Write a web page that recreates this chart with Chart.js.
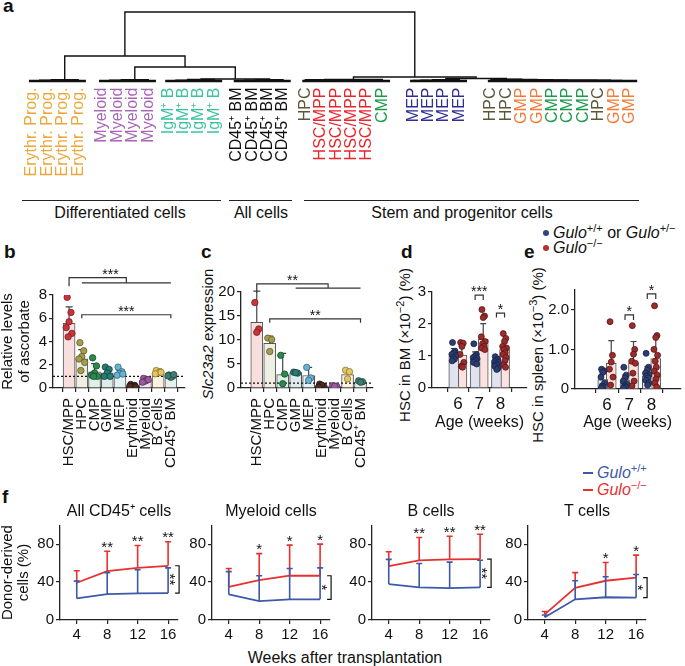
<!DOCTYPE html>
<html>
<head>
<meta charset="utf-8">
<title>Ascorbate levels in haematopoietic cells</title>
<script src="https://cdn.jsdelivr.net/npm/chart.js@4.4.1/dist/chart.umd.min.js"></script>
<style>
  body { margin: 0; background: #fff; }
  #page { position: relative; width: 685px; height: 666px; overflow: hidden; font-family: "Liberation Sans", Arial, sans-serif; color: #111; }
  #page canvas { position: absolute; }
  .t { position: absolute; white-space: nowrap; font-size: 16px; line-height: 16px; }
  .panel { font-weight: bold; font-size: 19px; line-height: 19px; }
  .rule { position: absolute; height: 0; border-top: 1.6px solid #222; }
  .rot { position: absolute; white-space: nowrap; font-size: 15px; line-height: 15px; transform: translate(-50%, -50%) rotate(-90deg); }
  .sup { font-size: 11px; position: relative; top: -6px; font-style: normal; }
  .dot { position: absolute; width: 6px; height: 6px; border-radius: 50%; }
  .seg { position: absolute; width: 10px; height: 0; border-top: 2px solid; }
</style>
</head>
<body>
<div id="page">
  <div class="t panel" style="left:3px;top:-4px">a</div>
  <div class="t panel" style="left:4px;top:242px">b</div>
  <div class="t panel" style="left:201px;top:242px">c</div>
  <div class="t panel" style="left:401px;top:242px">d</div>
  <div class="t panel" style="left:524px;top:242px">e</div>
  <div class="t panel" style="left:2px;top:487px">f</div>

  <div class="rule" style="left:22px;top:200px;width:199px"></div>
  <div class="rule" style="left:229px;top:200px;width:63px"></div>
  <div class="rule" style="left:304px;top:200px;width:335px"></div>
  <div class="t" style="left:120px;top:205px;transform:translateX(-50%)">Differentiated cells</div>
  <div class="t" style="left:261px;top:205px;transform:translateX(-50%)">All cells</div>
  <div class="t" style="left:462px;top:205px;transform:translateX(-50%)">Stem and progenitor cells</div>

  <div class="dot" style="left:543px;top:230px;background:#34457e"></div>
  <div class="t" style="left:553px;top:225px"><i>Gulo</i><span class="sup">+/+</span> or <i>Gulo</i><span class="sup">+/−</span></div>
  <div class="dot" style="left:543px;top:245px;background:#b8302e"></div>
  <div class="t" style="left:553px;top:240px"><i>Gulo</i><span class="sup">−/−</span></div>

  <div class="rot" style="left:207px;top:334px"><i>Slc23a2</i> expression</div>
  <div class="rot" style="left:405px;top:345px">HSC in BM (×10<span class="sup">−2</span>) (%)</div>
  <div class="rot" style="left:538px;top:355px">HSC in spleen (×10<span class="sup">−3</span>) (%)</div>

  <div class="seg" style="left:583px;top:472px;border-color:#3d5aa8"></div>
  <div class="t" style="left:597px;top:465px;color:#3d5aa8"><i>Gulo</i><span class="sup">+/+</span></div>
  <div class="seg" style="left:583px;top:489px;border-color:#e8312f"></div>
  <div class="t" style="left:597px;top:482px;color:#e8312f"><i>Gulo</i><span class="sup">−/−</span></div>

  <div class="t" style="left:345px;top:650px;transform:translateX(-50%)">Weeks after transplantation</div>
</div>
<script>
// ================= PANEL A: clustering =================
const leafLabels = [
  "Erythr. Prog.", "Erythr. Prog.", "Erythr. Prog.", "Erythr. Prog.",
  "Myeloid", "Myeloid", "Myeloid", "Myeloid",
  "IgM⁺ B", "IgM⁺ B", "IgM⁺ B", "IgM⁺ B",
  "CD45⁺ BM", "CD45⁺ BM", "CD45⁺ BM", "CD45⁺ BM",
  "HPC", "HSC/MPP", "HSC/MPP", "HSC/MPP", "HSC/MPP", "CMP",
  "MEP", "MEP", "MEP", "MEP",
  "HPC", "HPC", "GMP", "GMP", "CMP", "CMP", "CMP", "HPC", "GMP", "GMP"
];
// linkage rows: [node a, node b, merge height]; new nodes are numbered from 36
const linkage = [
  [0, 1, 0.4], [36, 2, 0.8], [37, 3, 1.2],
  [4, 5, 0.4], [39, 6, 0.8], [40, 7, 1.2],
  [8, 9, 0.4], [42, 10, 0.9], [43, 11, 1.5],
  [12, 13, 0.4], [45, 14, 0.8], [46, 15, 1.2],
  [44, 47, 2.0], [41, 48, 14], [38, 49, 25],
  [17, 18, 0.4], [19, 20, 0.4], [51, 52, 0.8], [16, 53, 1.2], [54, 21, 1.6],
  [22, 23, 0.5], [56, 24, 0.9], [57, 25, 1.3],
  [35, 34, 0.3], [59, 33, 0.5], [60, 32, 0.7], [61, 31, 0.8], [62, 30, 0.9],
  [63, 29, 1.1], [64, 28, 1.3], [65, 27, 1.5], [66, 26, 1.8],
  [58, 67, 2.5], [55, 68, 4], [50, 69, 69]
];
const leafGroups = [[0, 3], [4, 7], [8, 11], [12, 15], [16, 21], [22, 25], [26, 35]];

// ================= PANELS B, C =================
const cellTypes = ["HSC/MPP", "HPC", "CMP", "GMP", "MEP", "Erythroid", "Myeloid", "B Cells", "CD45⁺ BM"];
const ascMean = [5.57, 2.5, 1.4, 1.3, 1.25, 0.18, 0.65, 1.3, 1.0];
const ascSD = [1.4, 0.8, 0.7, 0.3, 0.25, 0.08, 0.12, 0.1, 0.1];
const ascPoints = [
  [7.8, 6.5, 5.7, 5.2, 4.7, 4.4],
  [3.9, 3.2, 2.7, 2.5, 2.2, 1.5],
  [2.6, 1.9, 1.3, 1.1, 1.0, 1.0],
  [1.8, 1.6, 1.3, 1.0, 1.0],
  [1.8, 1.4, 1.25, 1.1, 1.2],
  [0.3, 0.22, 0.12, 0.15, 0.1],
  [0.82, 0.7, 0.6, 0.5, 0.72],
  [1.5, 1.42, 1.3, 1.22, 1.35],
  [1.12, 1.02, 0.92, 1.05, 1.15]
];
const slcMean = [13.7, 9.3, 2.8, 3.2, 2.6, 0.45, 0.4, 2.8, 1.3];
const slcSD = [6.5, 1.5, 4.4, 0.25, 1.7, 0.2, 0.1, 0.9, 0.2];
const slcPoints = [
  [17.8, 12.3, 11.6],
  [10.4, 10.1, 7.6],
  [6.8, 2.9, 0.9],
  [3.3, 3.1, 3.2],
  [4.3, 2.1, 1.6],
  [0.8, 0.4, 0.6, 0.2],
  [0.5, 0.4, 0.35],
  [3.7, 3.4, 1.9],
  [1.5, 1.3, 1.2]
];
const ascSig = [
  { from: 0, group: [1, 8], foot: 8.75, top: 9.5, mid: 9.05, stars: "***", starX: 3.25 },
  { from: 1, to: 8, foot: 6.0, top: 6.3, stars: "***", starX: 4.5 }
];
const slcSig = [
  { from: 0, group: [3, 8], foot: 19.9, top: 21.7, mid: 20.8, stars: "**", starX: 2.75 },
  { from: 1, to: 8, foot: 13.6, top: 14.4, stars: "**", starX: 4.5 }
];

// ================= PANELS D, E =================
const ages = [6, 7, 8];
const bmWtMean = [1.0, 0.9, 0.78], bmWtSD = [0.23, 0.23, 0.2];
const bmKoMean = [1.03, 1.53, 1.2], bmKoSD = [0.4, 0.48, 0.3];
const bmWtPoints = [
  [1.42, 1.15, 1.1, 1.05, 1.0, 0.95, 0.9, 0.85],
  [1.38, 1.05, 1.0, 0.95, 0.92, 0.88, 0.85, 0.8, 0.75],
  [0.98, 0.9, 0.85, 0.82, 0.8, 0.76, 0.72, 0.68, 0.62, 0.58]
];
const bmKoPoints = [
  [1.42, 1.4, 1.3, 1.05, 0.8, 0.68, 0.65],
  [2.45, 2.25, 2.2, 1.6, 1.45, 1.38, 1.3, 1.25, 1.2],
  [1.7, 1.55, 1.45, 1.3, 1.25, 1.2, 1.1, 1.05, 0.95, 0.85, 0.72, 0.65]
];
const spWtMean = [0.24, 0.21, 0.33], spWtSD = [0.28, 0.14, 0.23];
const spKoMean = [0.65, 0.66, 0.77], spKoSD = [0.57, 0.54, 0.55];
const spWtPoints = [
  [0.5, 0.45, 0.42, 0.3, 0.15, 0.08, 0.05, 0.02],
  [0.55, 0.35, 0.28, 0.2, 0.12, 0.08, 0.05, 0.02],
  [0.9, 0.55, 0.48, 0.4, 0.36, 0.32, 0.28, 0.22, 0.15, 0.1]
];
const spKoPoints = [
  [1.7, 0.85, 0.68, 0.5, 0.3, 0.1],
  [1.6, 1.0, 0.88, 0.7, 0.65, 0.4, 0.2, 0.08],
  [2.1, 1.35, 1.3, 1.0, 0.85, 0.7, 0.55, 0.45, 0.35, 0.25, 0.15, 0.05]
];
const bmSig = [{ age: 7, foot: 2.75, top: 2.9, stars: "***" }, { age: 8, foot: 2.2, top: 2.34, stars: "*" }];
const spSig = [{ age: 7, foot: 1.74, top: 1.87, stars: "*" }, { age: 8, foot: 2.27, top: 2.4, stars: "*" }];

// ================= PANEL F =================
const weeks = [4, 8, 12, 16];
const fTitles = ["All CD45⁺ cells", "Myeloid cells", "B cells", "T cells"];
const fWt = [[22.8, 27.4, 28, 28.4], [27, 20, 21.8, 21.8], [37.9, 34.4, 33.7, 34.4], [2.8, 21.8, 24, 23.5]];
const fWtUp = [[41, 50, 53, 55], [51, 46.7, 54.4, 55], [64, 59.6, 61, 63], [5.3, 41.4, 45.6, 48]];
const fKo = [[39.3, 51.6, 55, 57.2], [35, 42, 46.7, 46.7], [56.8, 63, 64, 64.2], [6, 34, 41.4, 44.6]];
const fKoUp = [[52, 72.6, 78.6, 82.5], [54.4, 70, 79, 80], [72, 87, 88.4, 90.5], [9, 50, 60.7, 68.4]];
const fStars = [["", "**", "**", "**"], ["", "*", "*", "*"], ["", "**", "**", "**"], ["", "", "*", "*"]];
const fOverall = ["**", "*", "**", "*"];

// ================= STYLES =================
const FONT = "'Liberation Sans', Arial, sans-serif";
Chart.defaults.font.family = FONT;
Chart.defaults.font.size = 15;
Chart.defaults.color = "#111";
Chart.defaults.animation = false;
Chart.defaults.responsive = false;
Chart.defaults.plugins.legend.display = false;
Chart.defaults.plugins.tooltip.enabled = false;

const CELL_COLORS = {
  "Erythr. Prog.": "#eba83a", "Myeloid": "#a865b8", "IgM⁺ B": "#3cc2a0", "CD45⁺ BM": "#111111",
  "HPC": "#5a5838", "HSC/MPP": "#e8262d", "CMP": "#1b9a4b", "MEP": "#2e2f91", "GMP": "#f27c3a"
};
const CAT_FILL = ["#f9dede", "#eeeee2", "#e0f0e6", "#dcecec", "#e4f1f6", "#f6efea", "#f2e6f2", "#fbf3dd", "#e6f1ee"];
const CAT_DOT = ["#c7363c", "#a69c52", "#2a8a4e", "#2a7a72", "#6ab2cf", "#4d2b22", "#9a5a9c", "#e6c563", "#3e7d70"];
const CAT_EDGE = ["#7a1e22", "#5f5a2c", "#164d2b", "#134440", "#2f6880", "#2a1510", "#5a2e5c", "#8a7330", "#1e4a40"];
const WT_FILL = "#dfe2ef", WT_DOT = "#2c3d6e", WT_EDGE = "#18234a";
const KO_FILL = "#fbe1df", KO_DOT = "#9b2c2c", KO_EDGE = "#5a1515";
const BLUE = "#3d5aa8", RED = "#e8312f";
const JIT = [-0.6, 0.6, 0, -0.9, 0.9, -0.3, 0.3, -0.75, 0.75, 0.15, -0.45, 0.45];

function addCanvas(left, top, w, h) {
  const c = document.createElement("canvas");
  c.width = w; c.height = h;
  c.style.left = left + "px"; c.style.top = top + "px";
  c.style.width = w + "px"; c.style.height = h + "px";
  document.getElementById("page").appendChild(c);
  return c;
}

function yAxis(min, max, step, width, extra) {
  return Object.assign({
    type: "linear", min, max,
    afterFit: s => { s.width = width; },
    ticks: { stepSize: step, padding: 2, font: { size: 15 }, color: "#111" },
    grid: { display: true, drawOnChartArea: false, drawTicks: true, tickLength: 4, color: "#222", lineWidth: 1.2 },
    border: { display: true, color: "#222", width: 1.3 }
  }, extra || {});
}

function xAxis(min, max, vals, height, label, extra) {
  return Object.assign({
    type: "linear", min, max,
    afterBuildTicks: s => { s.ticks = vals.map(v => ({ value: v })); },
    afterFit: s => { s.height = height; },
    ticks: { autoSkip: false, maxRotation: 0, padding: 2, callback: (v, i) => label(i), font: { size: 15 }, color: "#111" },
    grid: { display: true, drawOnChartArea: false, drawTicks: true, tickLength: 4, color: "#222", lineWidth: 1.2 },
    border: { display: true, color: "#222", width: 1.3 }
  }, extra || {});
}

function starText(ctx, txt, x, y, size) {
  ctx.font = size + "px " + FONT;
  ctx.textAlign = "center";
  ctx.textBaseline = "alphabetic";
  ctx.fillText(txt, x, y + 0.57 * size);
}

// ================= DRAW A =================
const PX = 15.4;
const gapAfter = { 3: 0.55, 7: 0.3, 11: 0.45, 15: 0.45, 21: 1.0, 25: 1.05 };
const leafPos = [];
let run = 0;
leafLabels.forEach((l, i) => { leafPos.push(run); run += 1 + (gapAfter[i] || 0); });

const nodeX = leafPos.slice(), nodeH = leafPos.map(() => 0);
const treeSets = linkage.map(([a, b, h]) => {
  const pts = [{ x: nodeX[a], y: nodeH[a] }, { x: nodeX[a], y: h }, { x: nodeX[b], y: h }, { x: nodeX[b], y: nodeH[b] }];
  nodeX.push((nodeX[a] + nodeX[b]) / 2);
  nodeH.push(h);
  return { data: pts, showLine: true, borderColor: "#111", borderWidth: 1.4, pointRadius: 0, clip: false };
});
leafGroups.forEach(([s, e]) => {
  treeSets.push({ data: [{ x: leafPos[s] - 0.2, y: 0 }, { x: leafPos[e] + 0.5, y: 0 }],
    showLine: true, borderColor: "#111", borderWidth: 2.6, pointRadius: 0, clip: false });
});

const dendroMin = -(32 - 14) / PX;
new Chart(addCanvas(0, 0, 685, 190), {
  type: "scatter",
  data: { datasets: treeSets },
  options: {
    layout: { padding: { left: 14, right: 30, top: 12, bottom: 0 } },
    scales: {
      x: {
        type: "linear", min: dendroMin, max: dendroMin + (685 - 44) / PX,
        afterBuildTicks: s => { s.ticks = leafPos.map(v => ({ value: v })); },
        afterFit: s => { s.height = 107.5; },
        ticks: {
          autoSkip: false, minRotation: 90, maxRotation: 90, padding: 5,
          font: { size: 16 },
          callback: (v, i) => leafLabels[i],
          color: c => CELL_COLORS[leafLabels[c.index]] || "#111"
        },
        grid: { display: false, drawTicks: false },
        border: { display: false }
      },
      y: { display: false, min: -1.5, max: 69 }
    }
  }
});

// ================= DRAW B, C =================
function catSig(chart, sig) {
  const { ctx, scales: { x, y } } = chart;
  const X = v => x.getPixelForValue(v), Y = v => y.getPixelForValue(v);
  ctx.save();
  ctx.strokeStyle = "#333"; ctx.lineWidth = 1.2; ctx.fillStyle = "#111";
  sig.forEach(s => {
    ctx.beginPath();
    if (s.group) {
      const mid = (s.group[0] + s.group[1]) / 2;
      ctx.moveTo(X(s.from), Y(s.foot)); ctx.lineTo(X(s.from), Y(s.top));
      ctx.lineTo(X(mid), Y(s.top)); ctx.lineTo(X(mid), Y(s.mid));
      ctx.moveTo(X(s.group[0]), Y(s.mid)); ctx.lineTo(X(s.group[1]), Y(s.mid));
    } else {
      ctx.moveTo(X(s.from), Y(s.foot)); ctx.lineTo(X(s.from), Y(s.top));
      ctx.lineTo(X(s.to), Y(s.top)); ctx.lineTo(X(s.to), Y(s.foot));
    }
    ctx.stroke();
    starText(ctx, s.stars, X(s.starX), Y(s.top) - 7, 14);
  });
  ctx.restore();
}

function catPanel(cv, geo, means, sds, points, sig) {
  const dots = [];
  points.forEach((arr, i) => arr.forEach((v, j) => dots.push({ x: i + JIT[j % JIT.length] * geo.jit, y: v, c: i })));
  new Chart(cv, {
    type: "bar",
    data: {
      datasets: [
        { type: "scatter", order: 0, data: dots, pointRadius: 3.2, pointBorderWidth: 0.8,
          pointBackgroundColor: dots.map(d => CAT_DOT[d.c]), pointBorderColor: dots.map(d => CAT_EDGE[d.c]) },
        { type: "bar", order: 1, grouped: false, data: means.map((m, i) => ({ x: i, y: m })),
          barThickness: 12, backgroundColor: CAT_FILL, borderColor: "#555", borderWidth: 1 }
      ]
    },
    options: {
      layout: { padding: geo.pad },
      scales: {
        x: xAxis(geo.xmin, geo.xmax, cellTypes.map((c, i) => i), geo.xh, i => cellTypes[i],
          { ticks: { autoSkip: false, minRotation: 90, maxRotation: 90, padding: 6, font: { size: 15 }, color: "#111",
            callback: (v, i) => cellTypes[i] } }),
        y: yAxis(0, geo.ymax, geo.ystep, geo.yw, geo.ytitle ? { title: geo.ytitle } : {})
      }
    },
    plugins: [{
      id: "catExtras",
      afterDatasetDraw(chart, args) {
        if (args.index !== 1) return;
        const { ctx, chartArea: a, scales: { x, y } } = chart;
        ctx.save();
        ctx.strokeStyle = "#111"; ctx.lineWidth = 1.3; ctx.setLineDash([2, 2]);
        const y1 = y.getPixelForValue(1);
        ctx.beginPath(); ctx.moveTo(a.left, y1); ctx.lineTo(a.right, y1); ctx.stroke();
        ctx.setLineDash([]);
        ctx.strokeStyle = "#444"; ctx.lineWidth = 1.2;
        means.forEach((m, i) => {
          const px = x.getPixelForValue(i), top = y.getPixelForValue(m + sds[i]);
          ctx.beginPath();
          ctx.moveTo(px, y.getPixelForValue(m)); ctx.lineTo(px, top);
          ctx.moveTo(px - 3.5, top); ctx.lineTo(px + 3.5, top);
          ctx.stroke();
        });
        ctx.restore();
      },
      afterDraw(chart) { catSig(chart, sig); }
    }]
  });
}

catPanel(addCanvas(0, 262, 196, 212), {
  pad: { left: 0, right: 11, top: 33, bottom: 0 }, xh: 86, yw: 53,
  xmin: -0.69, xmax: 8.49, ymax: 8, ystep: 2, jit: 0.25,
  ytitle: { display: true, text: ["Relative levels", "of ascorbate"], font: { size: 15, lineHeight: 1.1 }, padding: 0, color: "#111" }
}, ascMean, ascSD, ascPoints, ascSig);

catPanel(addCanvas(200, 262, 185, 212), {
  pad: { left: 0, right: 5, top: 30, bottom: 0 }, xh: 86, yw: 41,
  xmin: -0.65, xmax: 8.4, ymax: 20, ystep: 5, jit: 0.25
}, slcMean, slcSD, slcPoints, slcSig);

// ================= DRAW D, E =================
function agePanel(cv, geo, wtMean, wtSD, koMean, koSD, wtPts, koPts, sig) {
  const OFF = geo.off;
  const mk = (pts, sign) => {
    const out = [];
    pts.forEach((arr, i) => arr.forEach((v, j) => out.push({ x: ages[i] + sign * OFF + JIT[j % JIT.length] * geo.jit, y: v })));
    return out;
  };
  new Chart(cv, {
    type: "bar",
    data: {
      datasets: [
        { type: "scatter", order: 0, data: mk(wtPts, -1), pointRadius: 3, pointBorderWidth: 0.8,
          pointBackgroundColor: WT_DOT, pointBorderColor: WT_EDGE },
        { type: "scatter", order: 0, data: mk(koPts, 1), pointRadius: 3, pointBorderWidth: 0.8,
          pointBackgroundColor: KO_DOT, pointBorderColor: KO_EDGE },
        { type: "bar", order: 1, grouped: false, data: ages.map((a, i) => ({ x: a - OFF, y: wtMean[i] })),
          barThickness: 10, backgroundColor: WT_FILL, borderColor: "#555", borderWidth: 1 },
        { type: "bar", order: 1, grouped: false, data: ages.map((a, i) => ({ x: a + OFF, y: koMean[i] })),
          barThickness: 10, backgroundColor: KO_FILL, borderColor: "#555", borderWidth: 1 }
      ]
    },
    options: {
      layout: { padding: geo.pad },
      scales: {
        x: xAxis(geo.xmin, geo.xmax, ages, geo.xh, i => String(ages[i]), {
          ticks: { autoSkip: false, maxRotation: 0, padding: 2, font: { size: 17 }, color: "#111", callback: (v, i) => String(ages[i]) },
          title: { display: true, text: "Age (weeks)", font: { size: 16 }, padding: 0, color: "#111" }
        }),
        y: yAxis(0, geo.ymax, geo.ystep, geo.yw, geo.fmt ? {
          ticks: { stepSize: geo.ystep, padding: 2, font: { size: 15 }, color: "#111", callback: geo.fmt } } : {})
      }
    },
    plugins: [{
      id: "ageExtras",
      afterDatasetDraw(chart, args) {
        if (args.index !== 2) return;
        const { ctx, scales: { x, y } } = chart;
        ctx.save();
        ctx.strokeStyle = "#444"; ctx.lineWidth = 1.2;
        [[wtMean, wtSD, -1], [koMean, koSD, 1]].forEach(([m, sd, sign]) => {
          ages.forEach((a, i) => {
            const px = x.getPixelForValue(a + sign * OFF), top = y.getPixelForValue(m[i] + sd[i]);
            ctx.beginPath();
            ctx.moveTo(px, y.getPixelForValue(m[i])); ctx.lineTo(px, top);
            ctx.moveTo(px - 3, top); ctx.lineTo(px + 3, top);
            ctx.stroke();
          });
        });
        ctx.restore();
      },
      afterDraw(chart) {
        const { ctx, scales: { x, y } } = chart;
        ctx.save();
        ctx.strokeStyle = "#333"; ctx.lineWidth = 1.2; ctx.fillStyle = "#111";
        sig.forEach(s => {
          const l = x.getPixelForValue(s.age - OFF), r = x.getPixelForValue(s.age + OFF);
          ctx.beginPath();
          ctx.moveTo(l, y.getPixelForValue(s.foot)); ctx.lineTo(l, y.getPixelForValue(s.top));
          ctx.lineTo(r, y.getPixelForValue(s.top)); ctx.lineTo(r, y.getPixelForValue(s.foot));
          ctx.stroke();
          starText(ctx, s.stars, (l + r) / 2, y.getPixelForValue(s.top) - 7, 14);
        });
        ctx.restore();
      }
    }]
  });
}

agePanel(addCanvas(395, 262, 137, 170), {
  pad: { left: 0, right: 5, top: 30, bottom: 0 }, xh: 44, yw: 37,
  xmin: 5.53, xmax: 8.5, ymax: 3, ystep: 1, off: 0.19, jit: 0.1
}, bmWtMean, bmWtSD, bmKoMean, bmKoSD, bmWtPoints, bmKoPoints, bmSig);

agePanel(addCanvas(528, 262, 157, 170), {
  pad: { left: 0, right: 1, top: 28, bottom: 0 }, xh: 43, yw: 47,
  xmin: 5.35, xmax: 8.5, ymax: 2.5, ystep: 0.5, off: 0.19, jit: 0.09,
  fmt: v => (v === 0 ? "0" : v.toFixed(1))
}, spWtMean, spWtSD, spKoMean, spKoSD, spWtPoints, spKoPoints, spSig);

// ================= DRAW F =================
const fGeo = [{ left: 0, yw: 60 }, { left: 184, yw: 28 }, { left: 344, yw: 28 }, { left: 500, yw: 28 }];

fTitles.forEach((title, k) => {
  const g = fGeo[k];
  new Chart(addCanvas(g.left, 500, g.yw + 118 + 8, 166), {
    type: "line",
    data: {
      datasets: [
        { data: weeks.map((w, i) => ({ x: w, y: fWt[k][i] })), borderColor: BLUE, borderWidth: 1.8, pointRadius: 0 },
        { data: weeks.map((w, i) => ({ x: w, y: fKo[k][i] })), borderColor: RED, borderWidth: 1.8, pointRadius: 0 }
      ]
    },
    options: {
      layout: { padding: { left: 0, right: 8, top: 0, bottom: 0 } },
      plugins: {
        title: { display: true, text: title, fullSize: false, font: { size: 16, weight: "normal" }, padding: { top: 2, bottom: 4 }, color: "#111" }
      },
      scales: {
        x: xAxis(1.8, 17.3, weeks, 46, i => String(weeks[i])),
        y: yAxis(0, 100, 20, g.yw, k === 0 ? {
          title: { display: true, text: ["Donor-derived", "cells (%)"], font: { size: 15, lineHeight: 1.05 }, padding: 0, color: "#111" }
        } : {})
      }
    },
    plugins: [{
      id: "fExtras",
      afterDatasetsDraw(chart) {
        const { ctx, scales: { x, y } } = chart;
        const X = v => x.getPixelForValue(v), Y = v => y.getPixelForValue(v);
        ctx.save();
        ctx.lineWidth = 1.6;
        [[fKo[k], fKoUp[k], RED], [fWt[k], fWtUp[k], BLUE]].forEach(([mid, up, col]) => {
          ctx.strokeStyle = col;
          weeks.forEach((w, i) => {
            const px = X(w), t = Y(up[i]);
            ctx.beginPath();
            ctx.moveTo(px, Y(mid[i])); ctx.lineTo(px, t);
            ctx.moveTo(px - 3, t); ctx.lineTo(px + 3, t);
            ctx.stroke();
          });
        });
        ctx.fillStyle = "#111";
        weeks.forEach((w, i) => {
          if (fStars[k][i]) starText(ctx, fStars[k][i], X(w), Y(fKoUp[k][i]) - 8, 15);
        });
        const bx = X(16) + 11, yr = Y(fKo[k][3]), yb = Y(fWt[k][3]);
        ctx.strokeStyle = "#111"; ctx.lineWidth = 1.2;
        ctx.beginPath();
        ctx.moveTo(bx - 4, yr); ctx.lineTo(bx, yr); ctx.lineTo(bx, yb); ctx.lineTo(bx - 4, yb);
        ctx.stroke();
        ctx.translate(bx - 6, (yr + yb) / 2);
        ctx.rotate(Math.PI / 2);
        starText(ctx, fOverall[k], 0, 0, 15);
        ctx.restore();
      }
    }]
  });
});
</script>
</body>
</html>
